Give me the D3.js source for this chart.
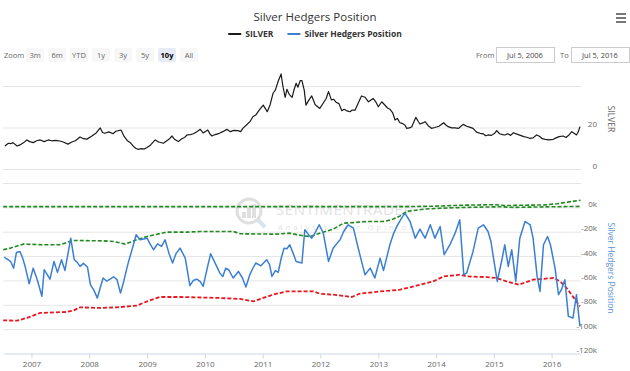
<!DOCTYPE html>
<html>
<head>
<meta charset="utf-8">
<script src="https://cdn.jsdelivr.net/npm/d3@7"></script>
<style>
  body { margin: 0; background: #fff; }
  svg { display: block; font-family: "Open Sans", sans-serif; }
</style>
</head>
<body>
<div id="chart"></div>
<script>
// silver price, [decimal year, usd]
const silver = [[2006.54,11.1],[2006.60,12.4],[2006.64,12.2],[2006.68,12.7],[2006.75,11.1],[2006.80,11.6],[2006.86,12.6],[2006.92,14.0],[2006.97,13.2],[2007.03,12.7],[2007.09,13.6],[2007.15,14.0],[2007.22,13.2],[2007.29,14.0],[2007.35,13.6],[2007.42,13.8],[2007.49,13.5],[2007.55,13.0],[2007.63,12.0],[2007.70,13.0],[2007.76,13.6],[2007.84,15.4],[2007.90,14.6],[2007.96,14.4],[2008.04,15.8],[2008.12,17.4],[2008.19,19.8],[2008.23,17.6],[2008.27,17.2],[2008.34,17.9],[2008.41,17.0],[2008.46,18.2],[2008.55,18.8],[2008.60,15.8],[2008.66,13.6],[2008.71,12.7],[2008.76,11.0],[2008.80,10.0],[2008.84,9.5],[2008.90,9.8],[2008.95,9.6],[2009.00,10.4],[2009.06,11.6],[2009.10,12.8],[2009.14,14.0],[2009.20,13.0],[2009.28,12.4],[2009.34,13.6],[2009.39,14.6],[2009.43,15.9],[2009.48,14.2],[2009.54,13.2],[2009.60,14.6],[2009.65,15.2],[2009.69,16.4],[2009.75,16.6],[2009.80,17.0],[2009.86,18.0],[2009.92,19.1],[2009.97,17.4],[2010.05,18.8],[2010.09,16.8],[2010.12,15.9],[2010.18,16.6],[2010.25,17.2],[2010.31,18.0],[2010.38,19.1],[2010.44,18.0],[2010.50,18.6],[2010.57,18.5],[2010.62,18.0],[2010.66,19.7],[2010.72,21.2],[2010.78,22.8],[2010.83,25.2],[2010.88,26.0],[2010.94,28.4],[2011.01,30.8],[2011.05,29.0],[2011.08,27.6],[2011.13,31.0],[2011.18,36.5],[2011.22,38.0],[2011.27,42.4],[2011.32,45.8],[2011.35,40.0],[2011.39,34.5],[2011.42,38.4],[2011.46,36.0],[2011.51,34.5],[2011.55,38.8],[2011.58,41.3],[2011.61,39.4],[2011.65,42.6],[2011.68,42.6],[2011.72,38.0],[2011.75,30.8],[2011.80,33.2],[2011.85,35.2],[2011.91,31.0],[2011.99,29.2],[2012.05,31.8],[2012.10,34.0],[2012.14,37.3],[2012.19,33.3],[2012.23,33.6],[2012.27,32.2],[2012.32,31.5],[2012.37,28.1],[2012.41,28.8],[2012.46,28.0],[2012.51,27.6],[2012.55,28.4],[2012.60,28.4],[2012.65,31.6],[2012.71,35.2],[2012.77,34.6],[2012.83,32.4],[2012.88,33.4],[2012.91,34.0],[2012.96,32.2],[2013.00,30.0],[2013.06,32.4],[2013.10,31.2],[2013.16,29.4],[2013.20,28.8],[2013.25,27.0],[2013.29,23.6],[2013.33,24.4],[2013.37,22.4],[2013.41,22.0],[2013.46,21.2],[2013.49,19.6],[2013.54,19.8],[2013.58,20.4],[2013.62,23.0],[2013.65,24.9],[2013.69,23.0],[2013.72,21.7],[2013.77,22.2],[2013.81,22.8],[2013.86,21.0],[2013.92,19.6],[2013.98,20.0],[2014.05,20.6],[2014.13,22.3],[2014.17,21.2],[2014.21,20.4],[2014.27,19.8],[2014.33,19.8],[2014.39,19.6],[2014.43,20.6],[2014.47,21.5],[2014.53,20.6],[2014.58,20.2],[2014.64,19.6],[2014.70,17.8],[2014.76,17.2],[2014.82,16.9],[2014.86,16.0],[2014.90,16.4],[2014.96,16.2],[2015.02,17.4],[2015.05,18.5],[2015.10,17.0],[2015.15,16.6],[2015.19,16.4],[2015.24,17.0],[2015.29,16.2],[2015.34,17.5],[2015.40,16.8],[2015.46,16.2],[2015.52,15.6],[2015.57,15.3],[2015.62,14.8],[2015.68,15.0],[2015.74,16.4],[2015.79,15.8],[2015.84,14.6],[2015.89,14.3],[2015.95,14.0],[2016.03,14.3],[2016.08,15.0],[2016.13,15.6],[2016.20,15.9],[2016.25,15.2],[2016.30,16.4],[2016.35,18.0],[2016.40,17.0],[2016.43,16.4],[2016.46,17.8],[2016.49,20.4]];

// hedgers net position, thousands of contracts
const hedgers = [[2006.53,-40.8],[2006.56,-42],[2006.60,-43],[2006.64,-44.5],[2006.69,-49.9],[2006.74,-37],[2006.80,-36.2],[2006.85,-42],[2006.89,-48.5],[2006.96,-62.7],[2007.03,-49.9],[2007.10,-59.4],[2007.18,-73],[2007.22,-51.2],[2007.27,-55],[2007.32,-58.9],[2007.39,-44.4],[2007.45,-53.4],[2007.52,-43],[2007.58,-51.8],[2007.68,-25.3],[2007.74,-43],[2007.79,-45],[2007.84,-48.5],[2007.90,-46],[2007.97,-49],[2008.02,-63.5],[2008.08,-68],[2008.14,-74.5],[2008.19,-66],[2008.24,-58],[2008.30,-60.5],[2008.36,-58.9],[2008.42,-57],[2008.48,-59.4],[2008.54,-70.4],[2008.60,-60],[2008.64,-52],[2008.68,-44.4],[2008.75,-33],[2008.81,-22.5],[2008.88,-26.6],[2009.00,-25.3],[2009.05,-30],[2009.11,-34.8],[2009.18,-30],[2009.25,-32],[2009.31,-26.6],[2009.38,-38],[2009.44,-45.7],[2009.50,-38],[2009.57,-33.5],[2009.66,-41.7],[2009.74,-64.3],[2009.80,-60],[2009.86,-58.9],[2009.92,-61],[2009.97,-64.9],[2010.05,-48],[2010.10,-38.1],[2010.20,-48],[2010.26,-54],[2010.31,-56.7],[2010.36,-50],[2010.41,-51.2],[2010.49,-58],[2010.58,-52.6],[2010.65,-58],[2010.71,-65.4],[2010.78,-55],[2010.83,-50],[2010.88,-45.7],[2010.97,-48],[2011.07,-43],[2011.12,-47],[2011.16,-56.7],[2011.22,-52],[2011.27,-53.4],[2011.32,-42],[2011.37,-33.5],[2011.42,-34],[2011.47,-30.7],[2011.53,-38],[2011.58,-44.4],[2011.68,-45.7],[2011.73,-18.4],[2011.79,-22],[2011.85,-25.3],[2011.91,-20.7],[2011.98,-14.3],[2012.05,-21.2],[2012.14,-44.4],[2012.22,-33.5],[2012.28,-30],[2012.34,-26.6],[2012.40,-20],[2012.48,-14.3],[2012.57,-17],[2012.66,-34.8],[2012.72,-46],[2012.77,-55.3],[2012.86,-49.9],[2012.94,-58],[2013.03,-41.7],[2013.09,-51.8],[2013.20,-30.7],[2013.26,-22],[2013.32,-15.7],[2013.40,-9],[2013.46,-4.8],[2013.55,-11.6],[2013.64,-25.3],[2013.72,-17.9],[2013.81,-25.3],[2013.90,-14.3],[2013.98,-25.3],[2014.07,-15.7],[2014.14,-38.9],[2014.24,-30.7],[2014.33,-21.2],[2014.41,-10.2],[2014.48,-55.3],[2014.53,-53.9],[2014.64,-36.2],[2014.73,-17],[2014.82,-14.3],[2014.90,-19.8],[2014.95,-28],[2014.99,-40.3],[2015.06,-60.8],[2015.14,-43],[2015.19,-30.7],[2015.25,-48.5],[2015.31,-34.8],[2015.38,-60.8],[2015.45,-25.3],[2015.54,-11.6],[2015.63,-14.3],[2015.68,-25.3],[2015.75,-56.7],[2015.80,-69],[2015.86,-30.7],[2015.93,-23.9],[2015.98,-30.7],[2016.06,-49.9],[2016.12,-71.7],[2016.17,-67.6],[2016.23,-59.4],[2016.29,-89.5],[2016.37,-90.8],[2016.43,-71.7],[2016.49,-97.7]];

// dashed bands
const upperGreen = [[2006.51,0.6],[2008.0,0.6],[2010.0,0.6],[2012.0,0.6],[2013.5,0.6],[2014.0,1.0],[2014.5,1.8],[2015.0,2.2],[2015.2,1.5],[2015.9,2.0],[2016.1,3.0],[2016.3,4.5],[2016.5,5.8]];
const lowerGreen = [[2006.51,-34.8],[2006.63,-33.5],[2006.86,-30.2],[2007.20,-30.7],[2007.49,-30.7],[2007.72,-27.2],[2008.24,-27.5],[2008.42,-28],[2008.62,-30.2],[2008.82,-26.6],[2009.00,-23.9],[2009.34,-20.3],[2009.69,-20.3],[2009.92,-19.8],[2010.49,-19.8],[2010.61,-21.7],[2011.24,-22],[2011.47,-21.2],[2011.70,-23.4],[2011.82,-23.9],[2011.99,-21.2],[2012.22,-17.9],[2012.40,-13],[2012.57,-12.5],[2012.80,-11.6],[2013.09,-11.6],[2013.23,-10.2],[2013.38,-7],[2013.49,-3.4],[2013.78,-1.5],[2014.07,-0.7],[2014.53,0],[2015.11,0.5],[2015.34,0],[2016.03,0.5],[2016.50,0.8]];
const redBand = [[2006.51,-92.8],[2006.75,-93],[2006.92,-90.8],[2007.15,-86.7],[2007.61,-85.9],[2007.72,-84.8],[2007.84,-82.1],[2008.19,-82.6],[2008.48,-82.1],[2008.82,-80.7],[2009.00,-77.2],[2009.22,-73.6],[2009.57,-73.6],[2010.26,-74.4],[2010.61,-75.2],[2010.84,-77.2],[2011.01,-74.4],[2011.18,-71.7],[2011.41,-69],[2011.65,-69],[2011.88,-69],[2011.99,-70.9],[2012.22,-71.7],[2012.54,-73.6],[2012.68,-70.9],[2013.03,-69],[2013.38,-67.6],[2013.66,-64.3],[2013.95,-60.8],[2014.13,-56.7],[2014.41,-55.3],[2014.53,-56.7],[2014.88,-57.3],[2015.05,-58],[2015.22,-60.8],[2015.43,-63.5],[2015.68,-59.4],[2016.03,-58],[2016.15,-60.8],[2016.26,-66.2],[2016.43,-77.2],[2016.49,-81.3]];

const silverTicks = [0, 20];
const silverGrid = [0, 20, 40];
const hedgerTicks = [0, -20, -40, -60, -80, -100, -120];
const hedgerGrid = [20, 0, -20, -40, -60, -80, -100];
const zoomButtons = ['3m', '6m', 'YTD', '1y', '3y', '5y', '10y', 'All'];
const legendItems = [{name: 'SILVER', color: '#1a1a1a'}, {name: 'Silver Hedgers Position', color: '#3b7fd4'}];

const width = 630;
const height = 371;
const plot = {left: 3, right: 581};

function toDate(y) {
    const yr = Math.floor(y);
    const a = new Date(yr, 0, 1), b = new Date(yr + 1, 0, 1);
    return new Date(+a + (y - yr) * (b - a));
}

const svg = d3.select('#chart')
    .append('svg')
        .attr('width', width)
        .attr('height', height);

const x = d3.scaleTime()
    .domain([new Date(2006, 6, 5), new Date(2016, 6, 5)])
    .range([plot.left, plot.right]);

const yTop = d3.scaleLinear()
    .domain([0, 40])
    .range([169, 86]);

const yBot = d3.scaleLinear()
    .domain([-120, 20])
    .range([353.5, 183]);

// title + legend
svg.append('text')
    .attr('x', 315).attr('y', 21)
    .attr('text-anchor', 'middle')
    .attr('font-size', '11.5px')
    .attr('fill', '#333')
    .text('Silver Hedgers Position');

const legend = svg.append('g');
let lx = 0;
legendItems.forEach(d => {
    const item = legend.append('g').attr('transform', `translate(${lx},0)`);
    item.append('line').attr('x1', 0).attr('x2', 13).attr('y1', 0).attr('y2', 0)
        .attr('stroke', d.color).attr('stroke-width', 2);
    const t = item.append('text').attr('x', 17).attr('y', 3)
        .attr('font-size', '8.5px').attr('font-weight', 'bold').attr('fill', '#333')
        .text(d.name);
    lx += 17 + t.node().getComputedTextLength() + 14;
});
legend.attr('transform', `translate(${315 - (lx - 14) / 2},34)`);

// hamburger
[0, 4, 8].forEach(o => {
    svg.append('line').attr('x1', 616).attr('x2', 626)
        .attr('y1', 14 + o).attr('y2', 14 + o)
        .attr('stroke', '#555').attr('stroke-width', 1.6);
});

// range selector
svg.append('text').attr('x', 4).attr('y', 58)
    .attr('font-size', '7.5px').attr('fill', '#666').text('Zoom');
zoomButtons.forEach((b, i) => {
    const cx = 35 + i * 22;
    const sel = b === '10y';
    svg.append('rect').attr('x', cx - 9).attr('y', 48).attr('width', 18).attr('height', 14)
        .attr('rx', 2).attr('fill', sel ? '#e6ebf5' : '#f7f7f7');
    svg.append('text').attr('x', cx).attr('y', 58)
        .attr('text-anchor', 'middle').attr('font-size', '7.5px')
        .attr('font-weight', sel ? 'bold' : 'normal')
        .attr('fill', sel ? '#000' : '#666').text(b);
});
svg.append('text').attr('x', 476).attr('y', 58).attr('font-size', '7.5px').attr('fill', '#666').text('From');
svg.append('text').attr('x', 560).attr('y', 58).attr('font-size', '7.5px').attr('fill', '#666').text('To');
[[496, 'Jul 5, 2006'], [571, 'Jul 5, 2016']].forEach(([bx, s]) => {
    svg.append('rect').attr('x', bx + 0.5).attr('y', 47.5).attr('width', 58).attr('height', 15)
        .attr('fill', '#fff').attr('stroke', '#ccc');
    svg.append('text').attr('x', bx + 29).attr('y', 58).attr('text-anchor', 'middle')
        .attr('font-size', '7.5px').attr('fill', '#444').text(s);
});

// gridlines
function grid(y, vals) {
    return g => g
        .attr('transform', `translate(${plot.left},0)`)
        .call(d3.axisLeft(y).tickValues(vals).tickSize(-(plot.right - plot.left)).tickFormat(''))
        .call(g => g.select('.domain').remove())
        .call(g => g.selectAll('line').attr('stroke', '#e6e6e6'));
}
svg.append('g').call(grid(yTop, silverGrid));
svg.append('g').call(grid(yBot, hedgerGrid));

// watermark
const wm = svg.append('g').attr('opacity', 0.8);
wm.append('circle').attr('cx', 249).attr('cy', 211).attr('r', 12)
    .attr('fill', 'none').attr('stroke', '#d8d8d8').attr('stroke-width', 3);
wm.append('line').attr('x1', 258).attr('y1', 220).attr('x2', 265).attr('y2', 227)
    .attr('stroke', '#d3dce8').attr('stroke-width', 4);
[[242, 6], [247, 10], [252, 14]].forEach(([bx, h]) => {
    wm.append('rect').attr('x', bx).attr('y', 218 - h).attr('width', 4).attr('height', h).attr('fill', '#d8d8d8');
});
wm.append('text').attr('x', 276).attr('y', 215).attr('font-size', '15px')
    .attr('fill', '#dcdcdc').attr('letter-spacing', '0.6px').text('SENTIMENTRADER');
wm.append('text').attr('x', 278).attr('y', 230).attr('font-size', '7.5px')
    .attr('fill', '#dcdcdc').attr('letter-spacing', '3px').text('Analysis over Opinion');

// series
const lineTop = d3.line().x(d => x(toDate(d[0]))).y(d => yTop(d[1]));
const lineBot = d3.line().x(d => x(toDate(d[0]))).y(d => yBot(d[1]));

svg.append('path').datum(silver)
    .attr('d', lineTop).attr('fill', 'none')
    .attr('stroke', '#1a1a1a').attr('stroke-width', 1.2).attr('stroke-linejoin', 'round');

svg.append('path').datum(upperGreen)
    .attr('d', lineBot).attr('fill', 'none')
    .attr('stroke', '#1f8a1f').attr('stroke-width', 1.6).attr('stroke-dasharray', '4,2');
svg.append('path').datum(lowerGreen)
    .attr('d', lineBot).attr('fill', 'none')
    .attr('stroke', '#1f8a1f').attr('stroke-width', 1.6).attr('stroke-dasharray', '4,2');
svg.append('path').datum(redBand)
    .attr('d', lineBot).attr('fill', 'none')
    .attr('stroke', '#e8161e').attr('stroke-width', 1.8).attr('stroke-dasharray', '4,2');

svg.append('path').datum(hedgers)
    .attr('d', lineBot).attr('fill', 'none')
    .attr('stroke', '#3b7fd4').attr('stroke-width', 1.5).attr('stroke-linejoin', 'round');

// y axes on the right
function yAxis(y, vals, fmt) {
    return g => g
        .attr('transform', 'translate(597,-3.5)')
        .call(d3.axisLeft(y).tickValues(vals).tickSize(0).tickPadding(0).tickFormat(fmt))
        .call(g => g.select('.domain').remove())
        .attr('font-family', null)
        .attr('font-size', '8px')
        .call(g => g.selectAll('text').attr('fill', '#666'));
}
svg.append('g').call(yAxis(yTop, silverTicks, d => d));
svg.append('g').call(yAxis(yBot, hedgerTicks, d => d + 'k'));

svg.append('text')
    .attr('transform', 'translate(608,119) rotate(90)')
    .attr('text-anchor', 'middle').attr('font-size', '8.5px').attr('fill', '#666')
    .text('SILVER');
svg.append('text')
    .attr('transform', 'translate(608,268) rotate(90)')
    .attr('text-anchor', 'middle').attr('font-size', '8.5px').attr('fill', '#5b93d8')
    .text('Silver Hedgers Position');

// x axis
function xAxis(g) {
    g.attr('transform', 'translate(0,353.5)')
        .call(d3.axisBottom(x).ticks(d3.timeYear).tickFormat(d3.timeFormat('%Y')).tickSize(5).tickSizeOuter(0).tickPadding(3))
        .attr('font-family', null)
        .attr('font-size', '8px')
        .call(g => g.selectAll('line, .domain').attr('stroke', '#ccd6eb'))
        .call(g => g.selectAll('text').attr('fill', '#666'));
}
svg.append('g').call(xAxis);
</script>
</body>
</html>
